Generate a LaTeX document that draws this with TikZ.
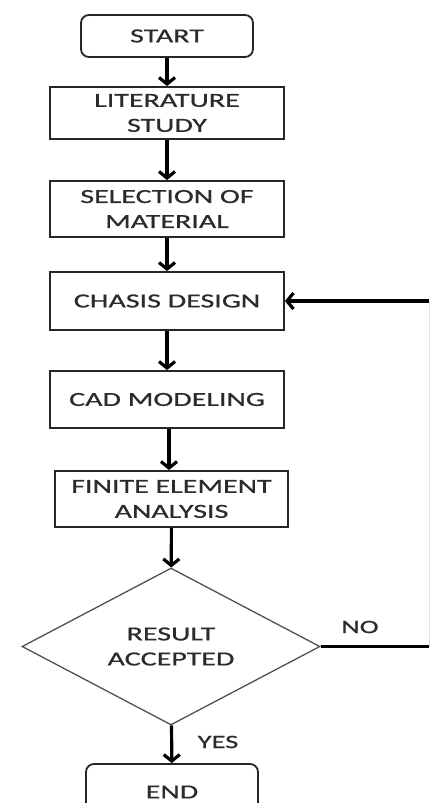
\documentclass[tikz,border=0pt]{standalone}
\usepackage{fontspec}
\setmainfont[FakeStretch=1.5,FakeBold=0.6]{Carlito}
\usetikzlibrary{shapes.geometric,arrows.meta}
\definecolor{txt}{HTML}{2B2B2B}
\definecolor{edge}{HTML}{262626}
\begin{document}
\begin{tikzpicture}[x=1pt,y=-1pt,
  every node/.style={font=\fontsize{20}{25}\selectfont, text=txt, align=center, inner sep=0pt},
  procbox/.style={draw=edge, line width=1.8pt, fill=white, minimum width=234pt},
  termbox/.style={procbox, rounded corners=8pt, minimum width=172pt},
  decbox/.style={diamond, draw=edge!80, line width=1.3pt, fill=white, minimum width=298pt, minimum height=157pt, aspect=1.9},
  flow/.style={line width=3.2pt, draw=black, -{Straight Barb[length=6.5pt,width=16pt]}},
  plainline/.style={line width=2.4pt, draw=black},
  lbl/.style={font=\fontsize{19}{22}\selectfont}
]
\useasboundingbox (0,0) rectangle (432,803);
\fill[white] (0,0) rectangle (432,803);

\node[termbox, minimum height=42pt] (start) at (167,36) {START};
\node[procbox, minimum height=52pt] (lit) at (167,113) {LITERATURE\\STUDY};
\node[procbox, minimum height=56pt] (sel) at (167,209) {SELECTION OF\\MATERIAL};
\node[procbox, minimum height=58pt] (cha) at (167,301) {CHASIS DESIGN};
\node[procbox, minimum height=57pt] (cad) at (167,399.5) {CAD MODELING};
\node[procbox, minimum height=56pt, minimum width=233pt] (fea) at (171.5,499) {FINITE ELEMENT\\ANALYSIS};
\node[decbox] (dia) at (171,646.5) {RESULT\\ACCEPTED};
\node[termbox, minimum height=56pt] (end) at (172,792) {END};

\coordinate (c1) at (429,646.5);
\coordinate (c2) at (429,301);

\draw[flow] (start) -- (lit);
\draw[flow] (lit) -- (sel);
\draw[flow] (sel) -- (cha);
\draw[flow] (cha) -- (cad);
\draw[flow] ([xshift=2pt]cad.south) -- ([xshift=2pt]cad.south |- fea.north);
\draw[flow] (fea) -- (dia);
\draw[flow] (dia) -- (end);
\draw[plainline] (dia.east) -- (c1);
\draw[line width=0.8pt, draw=black!12] (c1) -- (c2);
\draw[flow] (c2) -- (cha.east);

\node[lbl] (no) at (360,627) {NO};
\node[lbl] (yes) at (218,742) {YES};
\end{tikzpicture}
\end{document}
